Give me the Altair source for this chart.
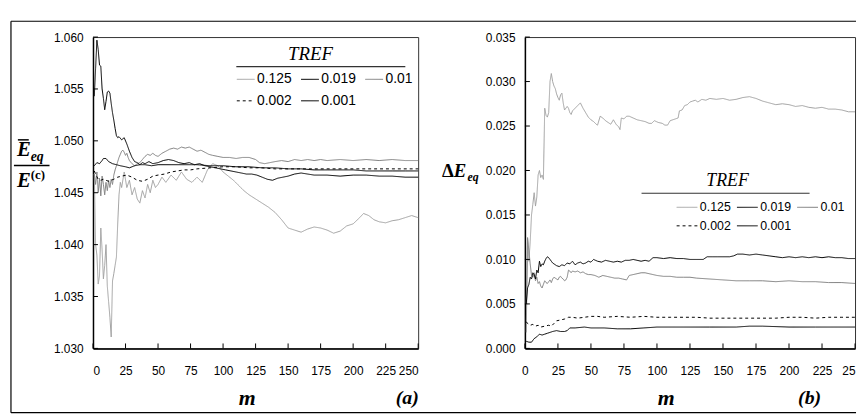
import altair as alt
import pandas as pd

SERIES = ["0.125", "0.019", "0.01", "0.002", "0.001"]
DRAW_ORDER = ["0.125", "0.01", "0.019", "0.002", "0.001"]
COLORS = ["#a0a0a0", "#000000", "#808080", "#000000", "#000000"]
WIDTHS = [1.0, 1.0, 1.9, 2.2, 2.0]
DASHES = [[1, 0], [1, 0], [1, 0], [3, 3], [1, 0]]

X_TICKS = [0, 25, 50, 75, 100, 125, 150, 175, 200, 225, 250]
LEFT_Y_TICKS = [1.030, 1.035, 1.040, 1.045, 1.050, 1.055, 1.060]
RIGHT_Y_TICKS = [0.000, 0.005, 0.010, 0.015, 0.020, 0.025, 0.030, 0.035]

# ---------------- panel (a): mean E_eq / E(c) ----------------
L_0125 = [(1, 1.0468), (2, 1.0400), (3, 1.0390), (4, 1.0362), (5, 1.0370), (6, 1.0416),
          (7, 1.0395), (8, 1.0367), (9, 1.0380), (10, 1.0400), (11, 1.0360), (12, 1.0345),
          (13, 1.0330), (14, 1.0311), (15, 1.0365), (16, 1.0372), (17, 1.0380), (18, 1.0388),
          (19, 1.0420), (20, 1.0448), (21, 1.0460), (22, 1.0455), (24, 1.0470), (26, 1.0455),
          (28, 1.0462), (30, 1.0448), (32, 1.0455), (34, 1.0444), (36, 1.0440), (38, 1.0452),
          (40, 1.0445), (42, 1.0458), (44, 1.0450), (46, 1.0462), (48, 1.0455), (50, 1.0458),
          (53, 1.0465), (56, 1.0460), (60, 1.0467), (64, 1.0462), (68, 1.0470), (72, 1.0463),
          (76, 1.0460), (80, 1.0465), (84, 1.0460), (88, 1.0472), (92, 1.0478), (96, 1.0476),
          (100, 1.0470), (104, 1.0466), (108, 1.0462), (112, 1.0457), (116, 1.0452),
          (120, 1.0448), (125, 1.0444), (130, 1.0440), (135, 1.0436), (140, 1.0431),
          (145, 1.0424), (150, 1.0416), (155, 1.0414), (160, 1.0412), (165, 1.0415),
          (170, 1.0417), (175, 1.0416), (180, 1.0414), (185, 1.0411), (190, 1.0413),
          (195, 1.0418), (200, 1.0420), (205, 1.0426), (208, 1.0430), (212, 1.0428),
          (216, 1.0424), (220, 1.0422), (225, 1.0421), (230, 1.0423), (235, 1.0424),
          (240, 1.0426), (245, 1.0428), (250, 1.0426)]
L_0019 = [(1, 1.0543), (2, 1.0570), (3, 1.0597), (4, 1.0588), (5, 1.0573), (6, 1.0572),
          (7, 1.0550), (8, 1.0541), (9, 1.0530), (10, 1.0538), (11, 1.0547), (12, 1.0548),
          (13, 1.0546), (14, 1.0536), (15, 1.0527), (16, 1.0520), (17, 1.0512), (18, 1.0505),
          (19, 1.0503), (20, 1.0504), (22, 1.0501), (24, 1.0503), (26, 1.0497), (28, 1.0490),
          (30, 1.0484), (32, 1.0480), (34, 1.0479), (36, 1.0477), (38, 1.0479), (40, 1.0478),
          (43, 1.0480), (46, 1.0478), (50, 1.0479), (54, 1.0481), (58, 1.0482), (62, 1.0481),
          (66, 1.0479), (70, 1.0478), (74, 1.0479), (78, 1.0477), (82, 1.0478), (86, 1.0476),
          (90, 1.0475), (94, 1.0474), (98, 1.0473), (102, 1.0472), (106, 1.0471), (110, 1.0470),
          (114, 1.0469), (118, 1.0468), (122, 1.0468), (126, 1.0467), (130, 1.0465),
          (134, 1.0463), (138, 1.0462), (142, 1.0464), (146, 1.0465), (150, 1.0466),
          (155, 1.0468), (160, 1.0469), (165, 1.0468), (170, 1.0467), (180, 1.0467),
          (190, 1.0466), (200, 1.0467), (210, 1.0467), (220, 1.0466), (230, 1.0466),
          (240, 1.0465), (250, 1.0465)]
L_001 = [(1, 1.0468), (2, 1.0458), (3, 1.0470), (4, 1.0450), (5, 1.0464), (6, 1.0447),
         (7, 1.0466), (8, 1.0458), (9, 1.0448), (10, 1.0460), (11, 1.0452), (12, 1.0462),
         (13, 1.0455), (14, 1.0463), (15, 1.0458), (16, 1.0467), (17, 1.0472), (18, 1.0476),
         (19, 1.0480), (20, 1.0484), (21, 1.0487), (22, 1.0490), (23, 1.0491), (24, 1.0489),
         (25, 1.0486), (26, 1.0488), (27, 1.0484), (28, 1.0481), (30, 1.0478), (32, 1.0476),
         (34, 1.0478), (36, 1.0479), (38, 1.0482), (40, 1.0485), (42, 1.0487), (44, 1.0486),
         (46, 1.0488), (48, 1.0486), (50, 1.0485), (53, 1.0488), (56, 1.0490), (59, 1.0492),
         (62, 1.0493), (65, 1.0492), (68, 1.0494), (71, 1.0493), (74, 1.0494), (77, 1.0492),
         (80, 1.0490), (83, 1.0491), (86, 1.0489), (89, 1.0487), (92, 1.0486), (96, 1.0485),
         (100, 1.0484), (105, 1.0484), (110, 1.0483), (115, 1.0484), (120, 1.0484),
         (125, 1.0482), (128, 1.0479), (132, 1.0478), (136, 1.0479), (140, 1.0480),
         (145, 1.0481), (150, 1.0480), (155, 1.0482), (160, 1.0481), (165, 1.0482),
         (170, 1.0481), (175, 1.0482), (180, 1.0481), (190, 1.0482), (200, 1.0481),
         (210, 1.0482), (220, 1.0481), (230, 1.0482), (240, 1.0481), (250, 1.0481)]
L_0002 = [(1, 1.0471), (2, 1.0468), (4, 1.0463), (6, 1.0462), (8, 1.0463), (10, 1.0462),
          (12, 1.0461), (14, 1.0462), (16, 1.0463), (19, 1.0465), (22, 1.0466), (26, 1.0467),
          (30, 1.0465), (34, 1.0462), (38, 1.0461), (42, 1.0463), (46, 1.0466), (50, 1.0467),
          (55, 1.0468), (60, 1.0470), (65, 1.0471), (70, 1.0472), (75, 1.0472), (80, 1.0473),
          (90, 1.0474), (100, 1.0475), (110, 1.0475), (120, 1.0474), (130, 1.0474),
          (140, 1.0473), (150, 1.0473), (175, 1.0473), (200, 1.0473), (225, 1.0473),
          (250, 1.0473)]
L_0001 = [(1, 1.0476), (3, 1.0479), (5, 1.0478), (7, 1.0481), (8, 1.0483), (10, 1.0483),
          (12, 1.0480), (15, 1.0478), (18, 1.0477), (21, 1.0476), (25, 1.0475), (28, 1.0474),
          (32, 1.0476), (36, 1.0477), (40, 1.0477), (45, 1.0476), (50, 1.0477), (60, 1.0477),
          (70, 1.0477), (80, 1.0477), (90, 1.0476), (100, 1.0476), (110, 1.0475),
          (120, 1.0475), (130, 1.0474), (140, 1.0474), (150, 1.0473), (160, 1.0473),
          (170, 1.0472), (180, 1.0472), (190, 1.0472), (200, 1.0472), (210, 1.0471),
          (220, 1.0471), (230, 1.0471), (240, 1.0471), (250, 1.0471)]

# ---------------- panel (b): Delta E_eq ----------------
R_0125 = [(1, 0.0050), (2, 0.0125), (3, 0.0098), (4, 0.0120), (5, 0.0150), (6, 0.0162),
          (7, 0.0175), (8, 0.0160), (9, 0.0170), (10, 0.0195), (11, 0.0200), (12, 0.0192),
          (13, 0.0195), (14, 0.0190), (15, 0.0270), (16, 0.0262), (17, 0.0260), (18, 0.0265),
          (19, 0.0300), (20, 0.0309), (21, 0.0300), (22, 0.0295), (23, 0.0292), (24, 0.0286),
          (25, 0.0282), (26, 0.0279), (27, 0.0285), (28, 0.0287), (29, 0.0276), (30, 0.0268),
          (31, 0.0270), (32, 0.0272), (33, 0.0270), (34, 0.0265), (35, 0.0263), (36, 0.0267),
          (38, 0.0270), (40, 0.0273), (42, 0.0276), (44, 0.0270), (46, 0.0265), (48, 0.0260),
          (50, 0.0257), (52, 0.0255), (54, 0.0252), (55, 0.0251), (57, 0.0261), (59, 0.0259),
          (61, 0.0256), (63, 0.0254), (65, 0.0252), (67, 0.0257), (69, 0.0252), (71, 0.0249),
          (72, 0.0246), (73, 0.0259), (75, 0.0258), (77, 0.0261), (79, 0.0261), (82, 0.0259),
          (85, 0.0257), (88, 0.0256), (91, 0.0255), (94, 0.0253), (96, 0.0253), (98, 0.0256),
          (101, 0.0254), (104, 0.0253), (106, 0.0251), (108, 0.0251), (110, 0.0256),
          (112, 0.0257), (114, 0.0258), (116, 0.0259), (117, 0.0267), (119, 0.0268),
          (121, 0.0273), (123, 0.0274), (125, 0.0277), (127, 0.0278), (129, 0.0279),
          (131, 0.0277), (134, 0.0280), (137, 0.0279), (140, 0.0281), (145, 0.0280),
          (150, 0.0281), (155, 0.0279), (160, 0.0280), (165, 0.0282), (170, 0.0283),
          (175, 0.0281), (180, 0.0278), (185, 0.0276), (190, 0.0274), (195, 0.0275),
          (200, 0.0274), (205, 0.0272), (210, 0.0273), (215, 0.0271), (220, 0.0270),
          (225, 0.0271), (230, 0.0269), (235, 0.0269), (240, 0.0268), (245, 0.0266),
          (250, 0.0266)]
R_0019 = [(1, 0.0050), (2, 0.0068), (3, 0.0072), (4, 0.0080), (5, 0.0078), (6, 0.0085),
          (7, 0.0083), (8, 0.0078), (9, 0.0088), (10, 0.0085), (11, 0.0098), (12, 0.0092),
          (13, 0.0095), (14, 0.0094), (15, 0.0098), (16, 0.0101), (17, 0.0103), (18, 0.0102),
          (19, 0.0100), (20, 0.0098), (21, 0.0096), (22, 0.0095), (24, 0.0093), (26, 0.0092),
          (28, 0.0094), (30, 0.0093), (32, 0.0096), (34, 0.0095), (36, 0.0098), (38, 0.0094),
          (40, 0.0096), (42, 0.0097), (44, 0.0095), (46, 0.0096), (48, 0.0098), (50, 0.0097),
          (52, 0.0100), (55, 0.0098), (58, 0.0097), (61, 0.0099), (64, 0.0098), (67, 0.0097),
          (70, 0.0098), (73, 0.0097), (76, 0.0099), (79, 0.0099), (82, 0.0100), (85, 0.0099),
          (88, 0.0098), (91, 0.0099), (94, 0.0098), (97, 0.0102), (100, 0.0102),
          (105, 0.0101), (110, 0.0102), (115, 0.0101), (120, 0.0101), (125, 0.0100),
          (130, 0.0100), (135, 0.0100), (138, 0.0103), (142, 0.0103), (146, 0.0103),
          (150, 0.0103), (155, 0.0103), (158, 0.0104), (161, 0.0106), (165, 0.0106),
          (170, 0.0105), (175, 0.0106), (180, 0.0105), (185, 0.0104), (190, 0.0103),
          (195, 0.0102), (200, 0.0103), (205, 0.0102), (210, 0.0103), (215, 0.0102),
          (220, 0.0103), (225, 0.0102), (230, 0.0103), (235, 0.0102), (240, 0.0102),
          (245, 0.0101), (250, 0.0101)]
R_001 = [(1, 0.0018), (2, 0.0124), (3, 0.0110), (4, 0.0095), (5, 0.0082), (6, 0.0080),
         (7, 0.0085), (8, 0.0076), (9, 0.0080), (10, 0.0073), (11, 0.0075), (12, 0.0070),
         (13, 0.0068), (14, 0.0072), (15, 0.0076), (16, 0.0074), (17, 0.0073), (18, 0.0075),
         (19, 0.0077), (20, 0.0074), (21, 0.0078), (22, 0.0080), (23, 0.0079), (24, 0.0078),
         (25, 0.0077), (26, 0.0080), (27, 0.0081), (28, 0.0079), (29, 0.0078), (30, 0.0076),
         (31, 0.0077), (32, 0.0080), (33, 0.0088), (34, 0.0087), (35, 0.0085), (36, 0.0087),
         (38, 0.0086), (40, 0.0087), (42, 0.0085), (44, 0.0086), (46, 0.0084), (48, 0.0083),
         (50, 0.0083), (53, 0.0082), (56, 0.0080), (59, 0.0082), (62, 0.0081), (65, 0.0080),
         (68, 0.0079), (71, 0.0079), (74, 0.0078), (77, 0.0077), (79, 0.0082), (82, 0.0083),
         (85, 0.0084), (88, 0.0085), (91, 0.0085), (94, 0.0084), (97, 0.0083), (100, 0.0082),
         (105, 0.0081), (110, 0.0081), (115, 0.0080), (120, 0.0080), (125, 0.0080),
         (130, 0.0079), (140, 0.0078), (150, 0.0077), (160, 0.0076), (170, 0.0076),
         (180, 0.0076), (190, 0.0075), (200, 0.0076), (210, 0.0075), (220, 0.0075),
         (230, 0.0074), (240, 0.0074), (250, 0.0073)]
R_0002 = [(1, 0.0030), (2, 0.0028), (4, 0.0026), (6, 0.0027), (8, 0.0025), (10, 0.0026),
          (12, 0.0024), (15, 0.0025), (18, 0.0026), (20, 0.0025), (22, 0.0028), (24, 0.0031),
          (27, 0.0032), (30, 0.0033), (33, 0.0035), (36, 0.0035), (40, 0.0034), (45, 0.0035),
          (50, 0.0036), (55, 0.0036), (60, 0.0035), (70, 0.0036), (80, 0.0035), (90, 0.0036),
          (100, 0.0035), (110, 0.0035), (120, 0.0035), (130, 0.0035), (140, 0.0034),
          (150, 0.0034), (160, 0.0034), (170, 0.0034), (180, 0.0034), (190, 0.0034),
          (200, 0.0035), (210, 0.0035), (220, 0.0034), (230, 0.0035), (240, 0.0035),
          (250, 0.0035)]
R_0001 = [(1, 0.0008), (3, 0.0007), (5, 0.0007), (7, 0.0011), (9, 0.0013), (11, 0.0016),
          (13, 0.0015), (15, 0.0016), (17, 0.0017), (19, 0.0018), (21, 0.0019), (24, 0.0020),
          (27, 0.0019), (30, 0.0019), (32, 0.0020), (34, 0.0023), (38, 0.0023), (45, 0.0024),
          (50, 0.0023), (60, 0.0023), (70, 0.0022), (80, 0.0022), (90, 0.0023), (100, 0.0024),
          (120, 0.0024), (140, 0.0024), (160, 0.0024), (170, 0.0025), (180, 0.0025),
          (200, 0.0024), (220, 0.0024), (250, 0.0024)]

LEFT = {"0.125": L_0125, "0.019": L_0019, "0.01": L_001, "0.002": L_0002, "0.001": L_0001}
RIGHT = {"0.125": R_0125, "0.019": R_0019, "0.01": R_001, "0.002": R_0002, "0.001": R_0001}

W_L, W_R, H = 329, 334, 315
SERIF = "Liberation Serif"
SANS = "Liberation Sans"
ONE = pd.DataFrame({"k": [0]})


def to_df(series_map):
    rows = []
    for s in DRAW_ORDER:
        for m, v in series_map[s]:
            rows.append({"m": m, "v": v, "s": s})
    return pd.DataFrame(rows)


def txt(s, x, y, size, style="italic", weight="bold", font=SERIF, align="left"):
    return alt.Chart(ONE).mark_text(
        text=s, font=font, fontSize=size, fontStyle=style, fontWeight=weight,
        align=align, baseline="alphabetic", color="black"
    ).encode(x=alt.value(x), y=alt.value(y))


def seg(x1, x2, y1, y2, w=1.0, color="black"):
    return alt.Chart(ONE).mark_rule(color=color, strokeWidth=w).encode(
        x=alt.value(x1), x2=alt.value(x2), y=alt.value(y1), y2=alt.value(y2))


def panel(series_map, ydom, yticks, legend_kw, m_title_x, last_label_short):
    xscale = alt.Scale(domain=[0, 250], nice=False, zero=False)
    yscale = alt.Scale(domain=ydom, nice=False, zero=False)
    leg = alt.Legend(orient="none", title=None, columns=3, direction="horizontal",
                     symbolType="stroke", labelFont=SANS, labelColor="black",
                     labelOffset=2, **legend_kw)
    xaxis_kw = dict(values=X_TICKS, format="d", ticks=False, labelPadding=17,
                    grid=False, title="m", titleFont=SERIF, titleFontSize=22,
                    titleFontStyle="italic", titleFontWeight="bold",
                    titleX=m_title_x, titleY=57, titleBaseline="alphabetic",
                    titleAlign="center")
    if last_label_short:
        xaxis_kw["labelExpr"] = "datum.value == 250 ? '25' : datum.label"
        xaxis_kw["labelAlign"] = {"condition": {"test": "datum.value == 250", "value": "right"},
                                  "value": "center"}
    xaxis = alt.Axis(**xaxis_kw)
    yaxis = alt.Axis(values=yticks, format=".3f", ticks=False, labelPadding=10,
                     grid=False, title=None)
    lines = alt.Chart(to_df(series_map)).mark_line().encode(
        x=alt.X("m:Q", scale=xscale, axis=xaxis),
        y=alt.Y("v:Q", scale=yscale, axis=yaxis),
        color=alt.Color("s:N", scale=alt.Scale(domain=SERIES, range=COLORS), legend=leg),
        strokeDash=alt.StrokeDash("s:N", scale=alt.Scale(domain=SERIES, range=DASHES), legend=leg),
        strokeWidth=alt.StrokeWidth("s:O", scale=alt.Scale(domain=SERIES, range=WIDTHS), legend=leg),
    )
    ytk = alt.Chart(pd.DataFrame({"t": yticks})).mark_rule(color="black", strokeWidth=1).encode(
        y=alt.Y("t:Q", scale=yscale, axis=yaxis), x=alt.value(0), x2=alt.value(5))
    xtk = alt.Chart(pd.DataFrame({"t": X_TICKS})).mark_rule(color="black", strokeWidth=1).encode(
        x=alt.X("t:Q", scale=xscale, axis=xaxis), y=alt.value(H), y2=alt.value(H - 5))
    return lines, ytk, xtk


# ---- left panel ----
l_lines, l_ytk, l_xtk = panel(
    LEFT, [1.030, 1.060], LEFT_Y_TICKS,
    dict(legendX=145, legendY=33, labelFontSize=14, symbolSize=324,
         columnPadding=6, rowPadding=5),
    155.5, False)
left = alt.layer(
    l_lines, l_ytk, l_xtk,
    txt("TREF", 220, 23, 19, style="italic", weight="normal", align="center"),
    seg(145, 316, 30, 30, 1.2, "#333333"),
    txt("E", -77, 120, 21),
    seg(-76, -65, 104, 104, 1.5),
    txt("eq", -63, 125, 14),
    seg(-80, -44, 130, 130, 1.5),
    txt("E", -77, 152, 21),
    txt("(c)", -63, 144, 13, style="normal"),
    txt("(a)", 318, 371, 20, align="center"),
    seg(-83, 772, -16, -16, 1.2),
    seg(-83, -83, -16, 380, 1.2),
    seg(-83, 772, 380, 380, 1.2),
).properties(width=W_L, height=H)

# ---- right panel ----
r_lines, r_ytk, r_xtk = panel(
    RIGHT, [0.0, 0.035], RIGHT_Y_TICKS,
    dict(legendX=153, legendY=161, labelFontSize=12.5, symbolSize=441,
         columnPadding=3, rowPadding=1),
    142.5, True)
right = alt.layer(
    r_lines, r_ytk, r_xtk,
    txt("TREF", 205, 151, 18, style="italic", weight="normal", align="center"),
    seg(118, 288, 158, 158, 1.2, "#333333"),
    txt("Δ", -84, 142, 19, style="normal"),
    txt("E", -72, 142, 19),
    txt("eq", -58, 146, 12),
    txt("(b)", 288, 371, 20, align="center"),
).properties(width=W_R, height=H)

chart = alt.hconcat(left, right, spacing=108, bounds="flush").resolve_scale(
    color="independent", strokeDash="independent", strokeWidth="independent"
).resolve_legend(
    color="independent", strokeDash="independent", strokeWidth="independent"
).properties(
    padding={"left": 1, "top": 9, "right": 0, "bottom": 0}
).configure_view(
    stroke="#333333", strokeWidth=1
).configure_axis(
    labelFont=SANS, labelFontSize=12, labelColor="black",
    domainColor="black", domainWidth=1.5
)

chart.save("out.html", embed_options={"renderer": "svg", "actions": False})
